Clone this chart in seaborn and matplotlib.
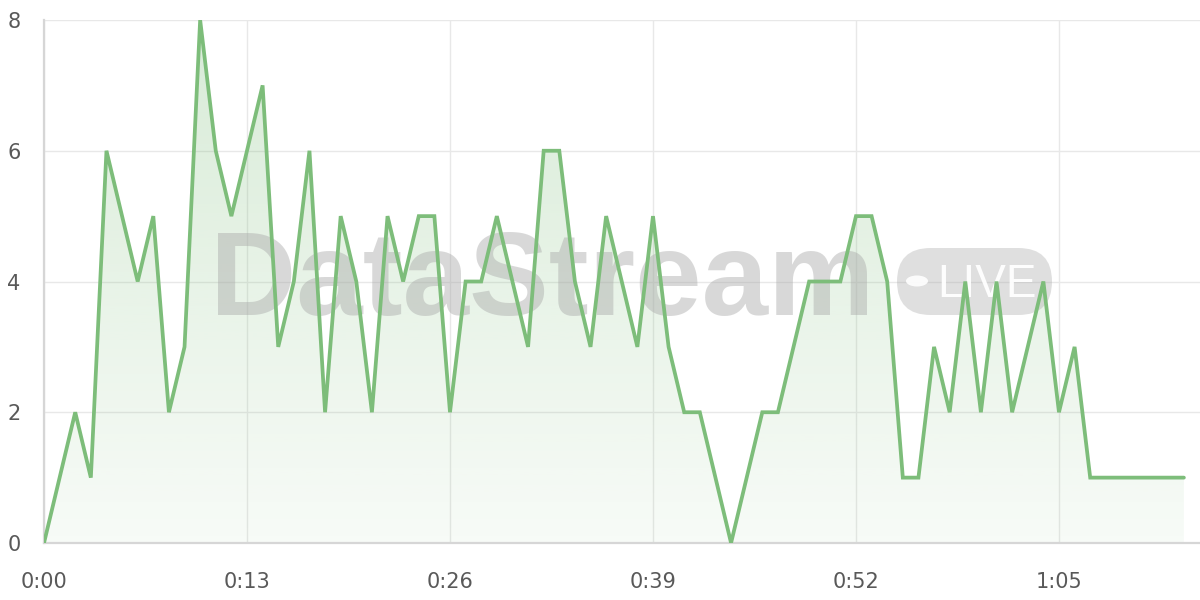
import numpy as np
import pandas as pd
import matplotlib
matplotlib.use("Agg")
import matplotlib.pyplot as plt
from matplotlib.patches import FancyBboxPatch, Circle
from matplotlib.ticker import FuncFormatter, FixedLocator
import seaborn as sns

# ---- data (one sample per second) ----
seconds = list(range(74))
values = [0, 1, 2, 1, 6, 5, 4, 5, 2, 3,
          8, 6, 5, 6, 7, 3, 4, 6, 2, 5,
          4, 2, 5, 4, 5, 5, 2, 4, 4, 5,
          4, 3, 6, 6, 4, 3, 5, 4, 3, 5,
          3, 2, 2, 1, 0, 1, 2, 2, 3, 4,
          4, 4, 5, 5, 4, 1, 1, 3, 2, 4,
          2, 4, 2, 3, 4, 2, 3, 1, 1, 1,
          1, 1, 1, 1]
x_ticks = [0, 13, 26, 39, 52, 65]
y_ticks = [0, 2, 4, 6, 8]
watermark_main = "DataStream"
watermark_badge = "LIVE"

df = pd.DataFrame({"t": seconds, "v": values})

LINE = "#7dbd7a"
GRID = "#e8e8e8"
AXIS = "#d6d6d6"
TXT = "#595959"

sns.set_theme(style="white")
plt.rcParams["font.family"] = ["DejaVu Sans"]

fig = plt.figure(figsize=(12, 6), dpi=100)
W, H = 1200, 600
left, right, top, bottom = 44, 1200, 20, 543
ax = fig.add_axes([left / W, (H - bottom) / H, (right - left) / W, (bottom - top) / H])
ax.set_facecolor("white")

# gradient fill under the line
poly = ax.fill_between(df["t"], df["v"], 0, facecolor="none", edgecolor="none", zorder=1)
path = poly.get_paths()[0]
grad = np.linspace(0.06, 0.30, 256).reshape(-1, 1)
rgba = np.zeros((256, 1, 4))
rgba[..., 0] = 125 / 255
rgba[..., 1] = 189 / 255
rgba[..., 2] = 122 / 255
rgba[..., 3] = grad
im = ax.imshow(rgba, extent=[0, max(seconds), 0, 8], origin="lower",
               aspect="auto", zorder=1, interpolation="bilinear")
im.set_clip_path(path, transform=ax.transData)

# line
sns.lineplot(data=df, x="t", y="v", ax=ax, color=LINE, linewidth=2.7,
             zorder=5, solid_joinstyle="miter", solid_capstyle="round")

ax.set_xlim(0, (right - left) / 15.615)
ax.set_ylim(0, 8)
ax.xaxis.set_major_locator(FixedLocator(x_ticks))
ax.yaxis.set_major_locator(FixedLocator(y_ticks))
ax.xaxis.set_major_formatter(FuncFormatter(lambda v, p: f"{int(v) // 60}:{int(v) % 60:02d}"))
ax.yaxis.set_major_formatter(FuncFormatter(lambda v, p: f"{int(v)}"))
ax.set_xlabel("")
ax.set_ylabel("")

ax.grid(True, color=GRID, linewidth=1.0, zorder=0)
ax.set_axisbelow(True)
for s in ["top", "right"]:
    ax.spines[s].set_visible(False)
for s in ["left", "bottom"]:
    ax.spines[s].set_color(AXIS)
    ax.spines[s].set_linewidth(1.6)
    ax.spines[s].set_zorder(3)
ax.tick_params(axis="both", which="both", length=11, width=1.0, color=GRID,
               labelcolor=TXT, labelsize=15)
ax.tick_params(axis="x", pad=10)
ax.tick_params(axis="y", pad=6)

# watermark (drawn inside the axes, between fill and line)
wm_color = "#a8a8a8"
ax.text(210 / W, (H - 315) / H, watermark_main, fontsize=86, fontweight="bold",
        family="Liberation Sans", color=wm_color, alpha=0.44, ha="left",
        va="baseline", zorder=2, transform=fig.transFigure, clip_on=False)
pill = FancyBboxPatch((897 / W, (H - 315) / H), 155 / W, 67 / H,
                      boxstyle="round,pad=0,rounding_size=0.028",
                      transform=fig.transFigure, facecolor=wm_color, alpha=0.36,
                      edgecolor="none", zorder=2, mutation_aspect=2.0, clip_on=False)
ax.add_artist(pill)
ax.add_artist(Circle((917 / W, (H - 281) / H), 11 / W, transform=fig.transFigure,
                     facecolor="white", alpha=0.9, edgecolor="none", zorder=3,
                     clip_on=False))
ax.text(937 / W, (H - 297) / H, watermark_badge, fontsize=33, family="Liberation Sans",
        color="white", alpha=0.95, ha="left", va="baseline", zorder=3,
        transform=fig.transFigure, clip_on=False)

fig.savefig("out.png", dpi=100, facecolor="white")
